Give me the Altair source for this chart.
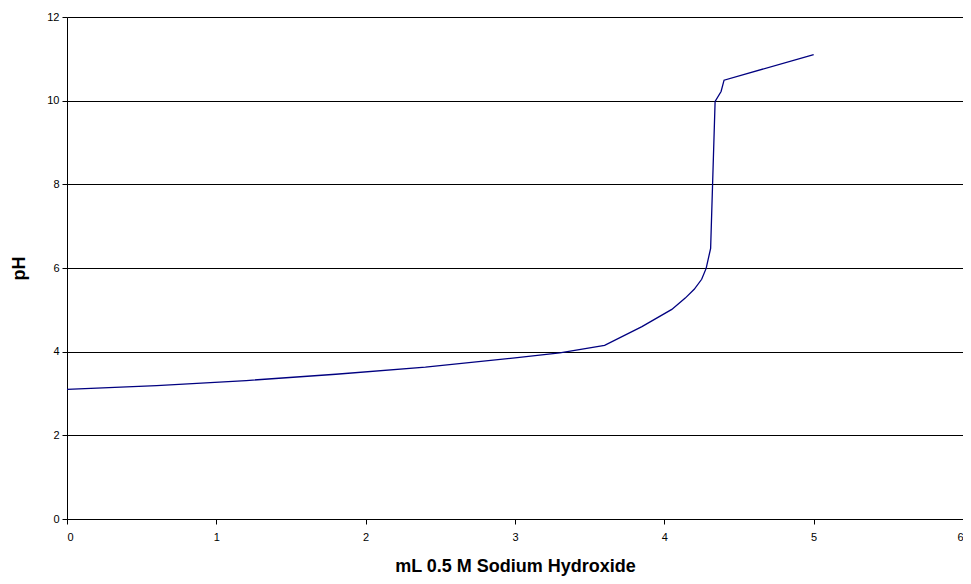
import altair as alt
import pandas as pd

ml_naoh = [0.0, 0.6, 1.2, 1.8, 2.4, 3.0, 3.3, 3.6, 3.85, 4.05, 4.14, 4.2, 4.25, 4.28, 4.31, 4.34, 4.38, 4.4, 5.0]
ph = [3.10, 3.19, 3.31, 3.46, 3.63, 3.85, 3.97, 4.15, 4.60, 5.01, 5.28, 5.49, 5.73, 5.99, 6.47, 9.98, 10.22, 10.49, 11.1]

df = pd.DataFrame({"ml": ml_naoh, "ph": ph})

chart = alt.Chart(df).mark_line(color="#000080", strokeWidth=1.3).encode(
    x=alt.X("ml:Q", title="mL 0.5 M Sodium Hydroxide",
            scale=alt.Scale(domain=[0, 6], nice=False),
            axis=alt.Axis(values=[0, 1, 2, 3, 4, 5, 6], grid=False, format="d",
                          domainColor="black", tickColor="black", tickSize=5,
                          labelFont="Liberation Sans", labelFontSize=11, labelColor="black",
                          labelPadding=7,
                          titleFont="Liberation Sans", titleFontSize=18, titleFontWeight="bold",
                          titleColor="black", titlePadding=15)),
    y=alt.Y("ph:Q", title="pH",
            scale=alt.Scale(domain=[0, 12], nice=False),
            axis=alt.Axis(values=[0, 2, 4, 6, 8, 10, 12], grid=True, gridColor="black",
                          gridWidth=1, format="d",
                          domainColor="black", tickColor="black", tickSize=5,
                          labelFont="Liberation Sans", labelFontSize=11, labelColor="black",
                          labelPadding=3,
                          titleFont="Liberation Sans", titleFontSize=18, titleFontWeight="bold",
                          titleColor="black", titlePadding=18)),
).properties(
    width=896,
    height=502,
    autosize=alt.AutoSizeParams(type="none"),
    padding={"left": 59, "top": 9, "right": 0, "bottom": 57},
).configure_view(stroke=None).configure(background="white")

chart.save("out.html", embed_options={"renderer": "svg", "actions": False})
